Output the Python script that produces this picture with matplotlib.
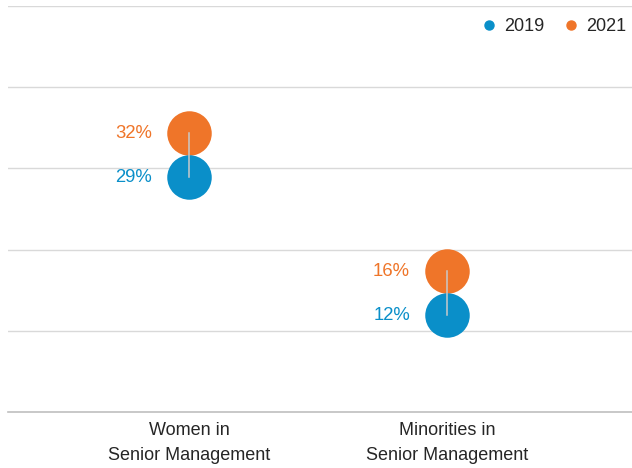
import matplotlib
matplotlib.use("Agg")
import matplotlib.pyplot as plt
from matplotlib.lines import Line2D

categories = ["Women in\nSenior Management", "Minorities in\nSenior Management"]
years = ["2019", "2021"]
values_2019 = [29, 12]
values_2021 = [32, 16]
value_labels_2019 = ["29%", "12%"]
value_labels_2021 = ["32%", "16%"]

BLUE = "#0A8FC9"
ORANGE = "#EF7529"
GRID = "#D9D9D9"
TEXT = "#262626"

plt.rcParams["font.family"] = ["Liberation Sans", "DejaVu Sans"]

fig = plt.figure(figsize=(6.32, 4.68), dpi=100)
ax = fig.add_axes([8 / 632, 56 / 468, 624 / 632, 406 / 468])
ax.set_xlim(-0.7016, 1.717)
ax.set_ylim(0, 50)

# marker diameter in pixels -> minimum separation in data units so dots don't overlap
diam_px = 44.5
ms_pt = diam_px * 72 / fig.dpi
ax_h_px = 406
min_sep = 44 / ax_h_px * 50

x = list(range(len(categories)))
y_2021_disp = [max(v21, v19 + min_sep) for v19, v21 in zip(values_2019, values_2021)]

for xi, y19, y21 in zip(x, values_2019, y_2021_disp):
    ax.plot([xi, xi], [y19, y21], color="#C9C9C9", lw=1.1, zorder=5)

ax.scatter(x, y_2021_disp, s=ms_pt ** 2, color=ORANGE, zorder=3, linewidths=0)
ax.scatter(x, values_2019, s=ms_pt ** 2, color=BLUE, zorder=4, linewidths=0)

for xi, y, lab in zip(x, values_2019, value_labels_2019):
    ax.annotate(lab, (xi, y), xytext=(-37, -1), textcoords="offset pixels",
                ha="right", va="center", color=BLUE, fontsize=13.3)
for xi, y, lab in zip(x, y_2021_disp, value_labels_2021):
    ax.annotate(lab, (xi, y), xytext=(-37, -1), textcoords="offset pixels",
                ha="right", va="center", color=ORANGE, fontsize=13.3)

ax.set_yticks([10, 20, 30, 40, 50])
ax.yaxis.grid(True, color=GRID, lw=1)
ax.tick_params(axis="y", length=0, labelleft=False)
ax.set_axisbelow(True)
for s in ["top", "right", "left"]:
    ax.spines[s].set_visible(False)
ax.spines["bottom"].set_color("#BFBFBF")
ax.spines["bottom"].set_linewidth(1.2)

ax.set_xticks(x)
ax.set_xticklabels(categories, fontsize=13, color=TEXT, linespacing=1.58)
ax.tick_params(axis="x", length=0, pad=7.2)

handles = [Line2D([], [], marker="o", ls="", color=BLUE, markersize=6.5),
           Line2D([], [], marker="o", ls="", color=ORANGE, markersize=6.5)]
leg = ax.legend(handles, years, loc="upper right", bbox_to_anchor=(1.003, 0.988),
                ncol=2, frameon=False, fontsize=13, handletextpad=0.45,
                columnspacing=1.08, handlelength=0.8, borderaxespad=0.0)
for t in leg.get_texts():
    t.set_color(TEXT)

fig.savefig("out.png", dpi=100)
